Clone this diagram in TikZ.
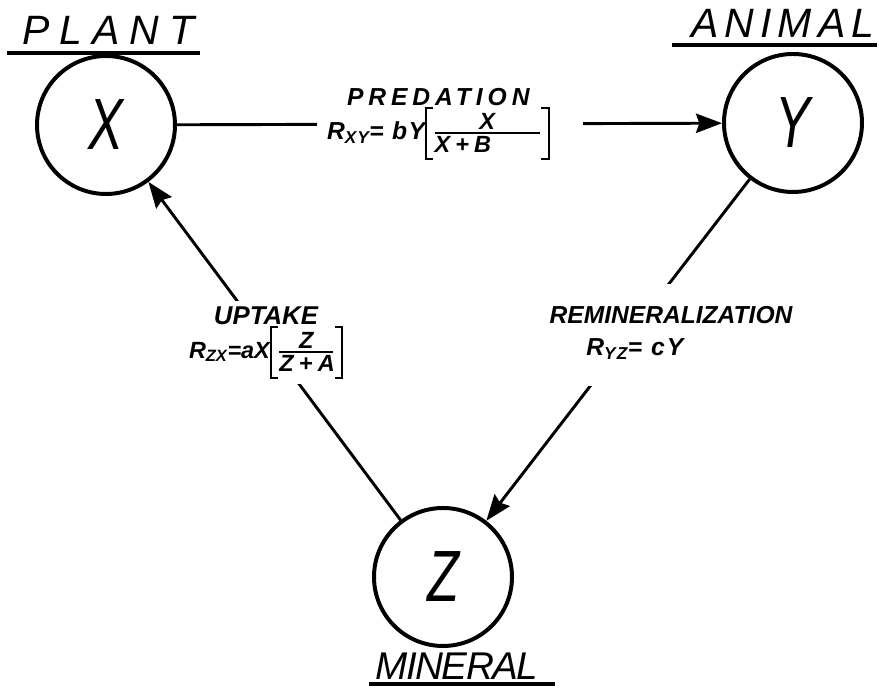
\documentclass[tikz,border=0pt]{standalone}
\usepackage{fontspec}
\setmainfont{Liberation Sans}
\usepackage{amsmath}
\usetikzlibrary{arrows.meta}

% heavy square brackets and the bracketed fraction of a rate law
\newcommand{\lbrk}{\vcenter{\hrule width 7pt height 1.8pt\hbox to 7pt{\vrule width 1.8pt height 42pt\hfil}\hrule width 7pt height 1.8pt}}
\newcommand{\rbrk}{\vcenter{\hrule width 7pt height 1.8pt\hbox to 7pt{\hfil\vrule width 1.8pt height 42pt}\hrule width 7pt height 1.8pt}}
\newcommand{\ratefrac}[3]{$\lbrk\genfrac{}{}{1.8pt}{}{\mbox{\fontsize{20}{20}\selectfont\makebox[#1]{#2}}}{\mbox{\fontsize{20}{20}\selectfont\addfontfeature{LetterSpace=22}\makebox[#1][l]{#3}}}\rbrk$}

\begin{document}
\begin{tikzpicture}[
>={Stealth[length=0.78cm,width=0.58cm,inset=0.1cm]},
pool/.style={circle, draw, line width=3.4pt, minimum size=4.14cm, inner sep=0pt, font=\fontsize{62}{62}\selectfont\itshape},
title/.style={inner xsep=0pt, font=\fontsize{35}{40}\selectfont\itshape},
rate/.style={fill=white, align=center, inner sep=0.15cm, font=\fontsize{21}{28}\selectfont\bfseries\itshape},
line/.style={line width=2.5pt},
uline/.style={line width=2.6pt}
]
\useasboundingbox (0,0) rectangle (26.37,20.88);

% Compartments
\node[pool] (X) at (3.18,17.13) {\scalebox{.72}[1]{X}};
\node[pool] (Y) at (23.79,17.19) {\scalebox{.72}[1]{Y}};
\node[pool] (Z) at (13.29,3.57) {\scalebox{.72}[1]{Z}};

% Titles
\node[title, anchor=south, minimum width=5.79cm, inner ysep=0.24cm] (plant) at (3.105,19.29) {\hspace*{0.3cm}\addfontfeature{LetterSpace=24}PLANT};
\node[title, anchor=south, minimum width=6.15cm, inner ysep=0.21cm] (animal) at (23.235,19.53) {\hspace*{0.5cm}\addfontfeature{LetterSpace=15}ANIMAL};
\node[title, anchor=south, minimum width=5.55cm, inner ysep=0.12cm] (mineral) at (13.86,0.36) {\fontsize{33}{40}\selectfont\addfontfeature{LetterSpace=-4}MINERAL\hspace*{0.3cm}};
\draw[uline] (plant.south west) -- (plant.south east);
\draw[uline] (animal.south west) -- (animal.south east);
\draw[uline] (mineral.south west) -- (mineral.south east);

% Flows
\draw[line,->] (X) -- (Y);
\draw[line,->] (Z) -- (X);
\draw[line,->] (Y) -- (Z);

% Rates
\node[rate, inner xsep=0.3cm, inner ysep=0cm] (pred) at (13.5,17.16) {{\addfontfeature{LetterSpace=20}PREDATION}\hspace*{0.7cm}\\{\addfontfeature{LetterSpace=6}R\textsubscript{XY}= bY\ratefrac{90pt}{X}{X+B}}\hspace*{0.7cm}};
\node[rate] (uptake) at (7.98,10.6) {\fontsize{22}{28}\selectfont UPTAKE\\\fontsize{20}{28}\selectfont R\textsubscript{ZX}=aX\ratefrac{46pt}{Z}{Z+A}};
\node[rate, align=left, inner ysep=0.66cm] (remin) at (20.13,10.83) {REMINERALIZATION\\\hspace*{1.1cm}{\addfontfeature{LetterSpace=8}R\textsubscript{YZ}= cY}\rule[-0.25cm]{0pt}{0pt}};

\end{tikzpicture}
\end{document}
